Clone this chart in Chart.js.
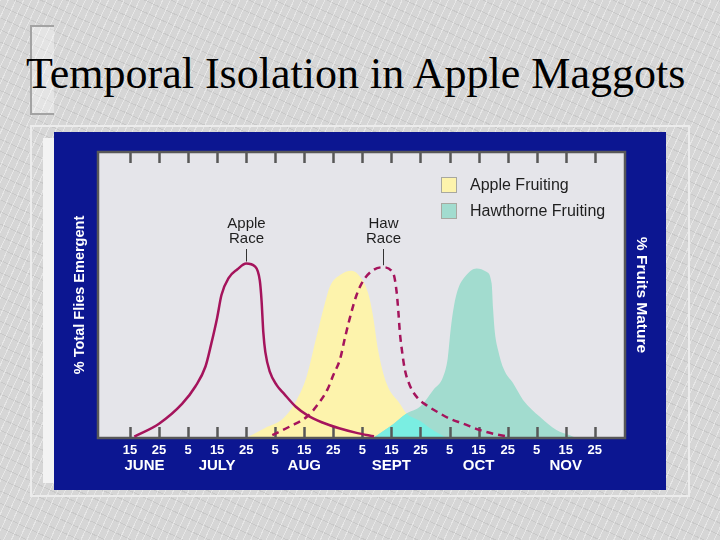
<!DOCTYPE html>
<html>
<head>
<meta charset="utf-8">
<script src="https://cdn.jsdelivr.net/npm/chart.js@4.4.0/dist/chart.umd.min.js"></script>
<style>
  html, body { margin: 0; padding: 0; }
  body {
    width: 720px; height: 540px; position: relative; overflow: hidden;
    background-color: #d6d6d6;
    background-image:
      repeating-linear-gradient(115deg, rgba(255,255,255,0.4) 0px, rgba(255,255,255,0.4) 1px, transparent 1px, transparent 7px),
      repeating-linear-gradient(25deg, rgba(120,120,120,0.14) 0px, rgba(120,120,120,0.14) 1px, transparent 1px, transparent 11px);
  }
  #bracket { position: absolute; left: 30px; top: 25px; width: 22px; height: 86px; border: 2px solid #a3a3a3; border-right: none; background: rgba(255,255,255,0.35); }
  #title { position: absolute; left: 26px; top: 52px; font-family: "Liberation Serif", "Times New Roman", serif; font-size: 44px; line-height: 44px; color: #000; white-space: nowrap; }
  #frame { position: absolute; left: 30px; top: 125px; width: 660px; height: 372px; box-sizing: border-box; border: 2px solid #ececec; }
  #strip { position: absolute; left: 43px; top: 138px; width: 11px; height: 345px; background: #f3f3f3; }
  #panel { position: absolute; left: 54px; top: 132px; width: 612px; height: 358px; background: #0c1691; }
</style>
</head>
<body>
<div id="bracket"></div>
<div id="title">Temporal Isolation in Apple Maggots</div>
<div id="frame"></div>
<div id="strip"></div>
<div id="panel"><canvas id="chart" width="612" height="358"></canvas></div>
<script>
// x values are days after June 15 (one tick every 10 days)
const tickDays = [0, 10, 20, 30, 40, 50, 60, 70, 80, 90, 100, 110, 120, 130, 140, 150, 160];
const tickLabels = ['15', '25', '5', '15', '25', '5', '15', '25', '5', '15', '25', '5', '15', '25', '5', '15', '25'];
const monthDays = [5, 30, 60, 90, 120, 150];
const monthLabels = ['JUNE', 'JULY', 'AUG', 'SEPT', 'OCT', 'NOV'];

const seriesLabels = ['Apple Fruiting', 'Hawthorne Fruiting', 'Apple Race', 'Haw Race'];
const raceNames = [['Apple', 'Race'], ['Haw', 'Race']];
const yTitle = '% Total Flies Emergent';
const y2Title = '% Fruits Mature';

const appleFruitDays = [40, 46.5, 52.8, 57.4, 60.8, 64.2, 67.1, 68.8, 72.3, 76.3, 79.2, 82, 83.7, 85.4, 88.3, 92.9, 95.2, 99.8, 103.2, 109];
const appleFruitValues = [0, 3.5, 6.9, 13.3, 21.4, 35.4, 47.1, 52.9, 57, 58.5, 56.4, 50.6, 42.4, 30.8, 19.1, 12, 8.6, 6, 3.5, 0];

const hawFruitDays = [83.7, 89.5, 95.2, 99.8, 104.4, 107.8, 109.4, 110.4, 111.5, 112.9, 115.3, 119.3, 122.7, 124.5, 125, 125.6, 126.7, 128.7, 131.9, 135.3, 141.1, 146.8, 151.4, 153.8];
const hawFruitValues = [0, 4, 8.6, 10.9, 16.8, 21.4, 28, 38, 46, 52, 56.4, 59.3, 58.1, 54, 45, 37, 30.8, 24, 19.1, 13.3, 7.4, 2.8, 1, 0];

const appleRaceDays = [1.5, 10, 18, 22.5, 26, 28, 30, 31.5, 34, 37, 40, 43, 44.7, 45.3, 45.9, 46.6, 48.2, 50.5, 53, 57, 61, 66, 72, 78, 84];
const appleRaceValues = [0.5, 5, 12, 18, 25, 33, 42, 50, 56, 59, 61, 60, 55, 48, 37, 30, 23, 18.5, 15.5, 11, 8, 5.5, 3.4, 1.8, 0.6];

const hawRaceDays = [49, 55, 61, 64.5, 68, 70, 72.3, 74, 75.7, 78, 80.3, 83.7, 87, 90.6, 91.8, 92.4, 92.9, 93.7, 94.6, 96.5, 99, 102, 106.7, 110, 114.7, 120.4, 125, 129.6];
const hawRaceValues = [1, 4, 7.5, 11.5, 17, 22, 27.5, 35, 42, 50, 55, 58.7, 59.7, 57.6, 51, 44, 37, 30, 24, 18, 14, 11.5, 8.6, 6.8, 5, 2.8, 1.5, 0.6];

const yellow = '#fdf3ac';
const teal = '#a2dccf';
const overlapColor = '#7aeee2';
const raceColor = '#a5145c';
const plotBg = '#e5e5ea';
const sans = '"Liberation Sans", Arial, sans-serif';

function points(days, values) {
    return days.map((d, i) => ({ x: d, y: values[i] }));
}

function areaPath(ctx, line, bottom) {
    const pts = line.points;
    ctx.beginPath();
    line.path(ctx);
    ctx.lineTo(pts[pts.length - 1].x, bottom);
    ctx.lineTo(pts[0].x, bottom);
    ctx.closePath();
}

const decor = {
    id: 'decor',
    beforeDraw(chart) {
        const { ctx, chartArea: a } = chart;
        ctx.save();
        ctx.fillStyle = plotBg;
        ctx.fillRect(a.left, a.top, a.width, a.height);
        ctx.restore();
    },
    afterDatasetDraw(chart, args) {
        if (args.index !== 1) return;
        const { ctx, chartArea: a } = chart;
        const bottom = chart.scales.y.getPixelForValue(0);

        // where both fruiting areas overlap
        ctx.save();
        areaPath(ctx, chart.getDatasetMeta(0).dataset, bottom);
        ctx.clip();
        areaPath(ctx, chart.getDatasetMeta(1).dataset, bottom);
        ctx.fillStyle = overlapColor;
        ctx.fill();
        ctx.restore();

        // plot frame and inward ticks
        ctx.save();
        ctx.strokeStyle = '#585858';
        ctx.lineWidth = 2.5;
        ctx.strokeRect(a.left, a.top, a.width, a.height);
        ctx.beginPath();
        chart.scales.x.ticks.forEach(t => {
            const px = Math.round(chart.scales.x.getPixelForValue(t.value)) + 0.5;
            ctx.moveTo(px, a.bottom);
            ctx.lineTo(px, a.bottom - 11);
            ctx.moveTo(px, a.top);
            ctx.lineTo(px, a.top + 11);
        });
        ctx.stroke();
        ctx.restore();
    },
    afterDraw(chart) {
        const { ctx, chartArea: a } = chart;
        ctx.save();

        // legend for the two fruiting areas
        const lx = a.right - 184;
        const ly = a.top + 25;
        ctx.font = '16px ' + sans;
        ctx.textBaseline = 'middle';
        ctx.textAlign = 'left';
        [0, 1].forEach((di, i) => {
            const ds = chart.data.datasets[di];
            const y = ly + i * 26;
            ctx.fillStyle = ds.backgroundColor;
            ctx.fillRect(lx, y, 16, 16);
            ctx.strokeStyle = '#a8a8a0';
            ctx.lineWidth = 1;
            ctx.strokeRect(lx + 0.5, y + 0.5, 15, 15);
            ctx.fillStyle = '#1e1e1e';
            ctx.fillText(ds.label, lx + 29, y + 9);
        });

        // race labels with leader lines above each peak
        ctx.textAlign = 'center';
        ctx.font = '15px ' + sans;
        [2, 3].forEach((di, i) => {
            const meta = chart.getDatasetMeta(di);
            let peak = meta.data[0];
            meta.data.forEach(p => { if (p.y < peak.y) peak = p; });
            const x = Math.round(peak.x) + 0.5;
            ctx.fillStyle = '#1e1e1e';
            ctx.fillText(raceNames[i][0], x, a.top + 72);
            ctx.fillText(raceNames[i][1], x, a.top + 87);
            ctx.strokeStyle = '#333';
            ctx.lineWidth = 1;
            ctx.beginPath();
            ctx.moveTo(x, a.top + 97);
            ctx.lineTo(x, peak.y - 2);
            ctx.stroke();
        });
        ctx.restore();
    }
};

const ctx = document.getElementById('chart').getContext('2d');
const chart = new Chart(ctx, {
    type: 'line',
    data: {
        datasets: [
            {
                label: seriesLabels[0],
                data: points(appleFruitDays, appleFruitValues),
                backgroundColor: yellow,
                borderWidth: 0,
                pointRadius: 0,
                fill: 'origin',
                cubicInterpolationMode: 'monotone',
                order: 4
            },
            {
                label: seriesLabels[1],
                data: points(hawFruitDays, hawFruitValues),
                backgroundColor: teal,
                borderWidth: 0,
                pointRadius: 0,
                fill: 'origin',
                cubicInterpolationMode: 'monotone',
                order: 3
            },
            {
                label: seriesLabels[2],
                data: points(appleRaceDays, appleRaceValues),
                borderColor: raceColor,
                borderWidth: 2.5,
                pointRadius: 0,
                fill: false,
                cubicInterpolationMode: 'monotone',
                order: 2
            },
            {
                label: seriesLabels[3],
                data: points(hawRaceDays, hawRaceValues),
                borderColor: raceColor,
                borderWidth: 2.5,
                borderDash: [7, 5],
                pointRadius: 0,
                fill: false,
                cubicInterpolationMode: 'monotone',
                order: 1
            }
        ]
    },
    options: {
        responsive: false,
        animation: false,
        devicePixelRatio: 1,
        layout: { padding: { top: 20, left: 0, right: 0, bottom: 0 } },
        plugins: {
            legend: { display: false },
            tooltip: { enabled: false }
        },
        scales: {
            x: {
                type: 'linear',
                position: 'bottom',
                min: -11,
                max: 170.4,
                afterBuildTicks: s => { s.ticks = tickDays.map(v => ({ value: v })); },
                afterFit: s => { s.height = 19; },
                grid: { display: false, drawTicks: false },
                border: { display: false },
                ticks: {
                    autoSkip: false,
                    maxRotation: 0,
                    padding: 5,
                    color: '#ffffff',
                    font: { family: sans, size: 13, weight: 'bold' },
                    callback: (v, i) => tickLabels[i]
                }
            },
            months: {
                type: 'linear',
                position: 'bottom',
                min: -11,
                max: 170.4,
                afterBuildTicks: s => { s.ticks = monthDays.map(v => ({ value: v })); },
                afterFit: s => { s.height = 33; },
                grid: { display: false, drawTicks: false },
                border: { display: false },
                ticks: {
                    autoSkip: false,
                    maxRotation: 0,
                    padding: 0,
                    color: '#ffffff',
                    font: { family: sans, size: 15, weight: 'bold' },
                    callback: (v, i) => monthLabels[i]
                }
            },
            y: {
                position: 'left',
                min: 0,
                max: 100,
                afterFit: s => { s.width = 44; },
                grid: { display: false, drawTicks: false },
                border: { display: false },
                ticks: { display: false },
                title: {
                    display: true,
                    text: yTitle,
                    color: '#ffffff',
                    font: { family: sans, size: 14.5, weight: 'bold' },
                    padding: { top: 17.3, bottom: 0 }
                }
            },
            y2: {
                position: 'right',
                min: 0,
                max: 100,
                afterFit: s => { s.width = 41; },
                grid: { display: false, drawTicks: false },
                border: { display: false },
                ticks: { display: false },
                title: {
                    display: true,
                    text: y2Title,
                    color: '#ffffff',
                    font: { family: sans, size: 15.5, weight: 'bold' },
                    padding: { top: 15, bottom: 0 }
                }
            }
        }
    },
    plugins: [decor]
});
</script>
</body>
</html>
